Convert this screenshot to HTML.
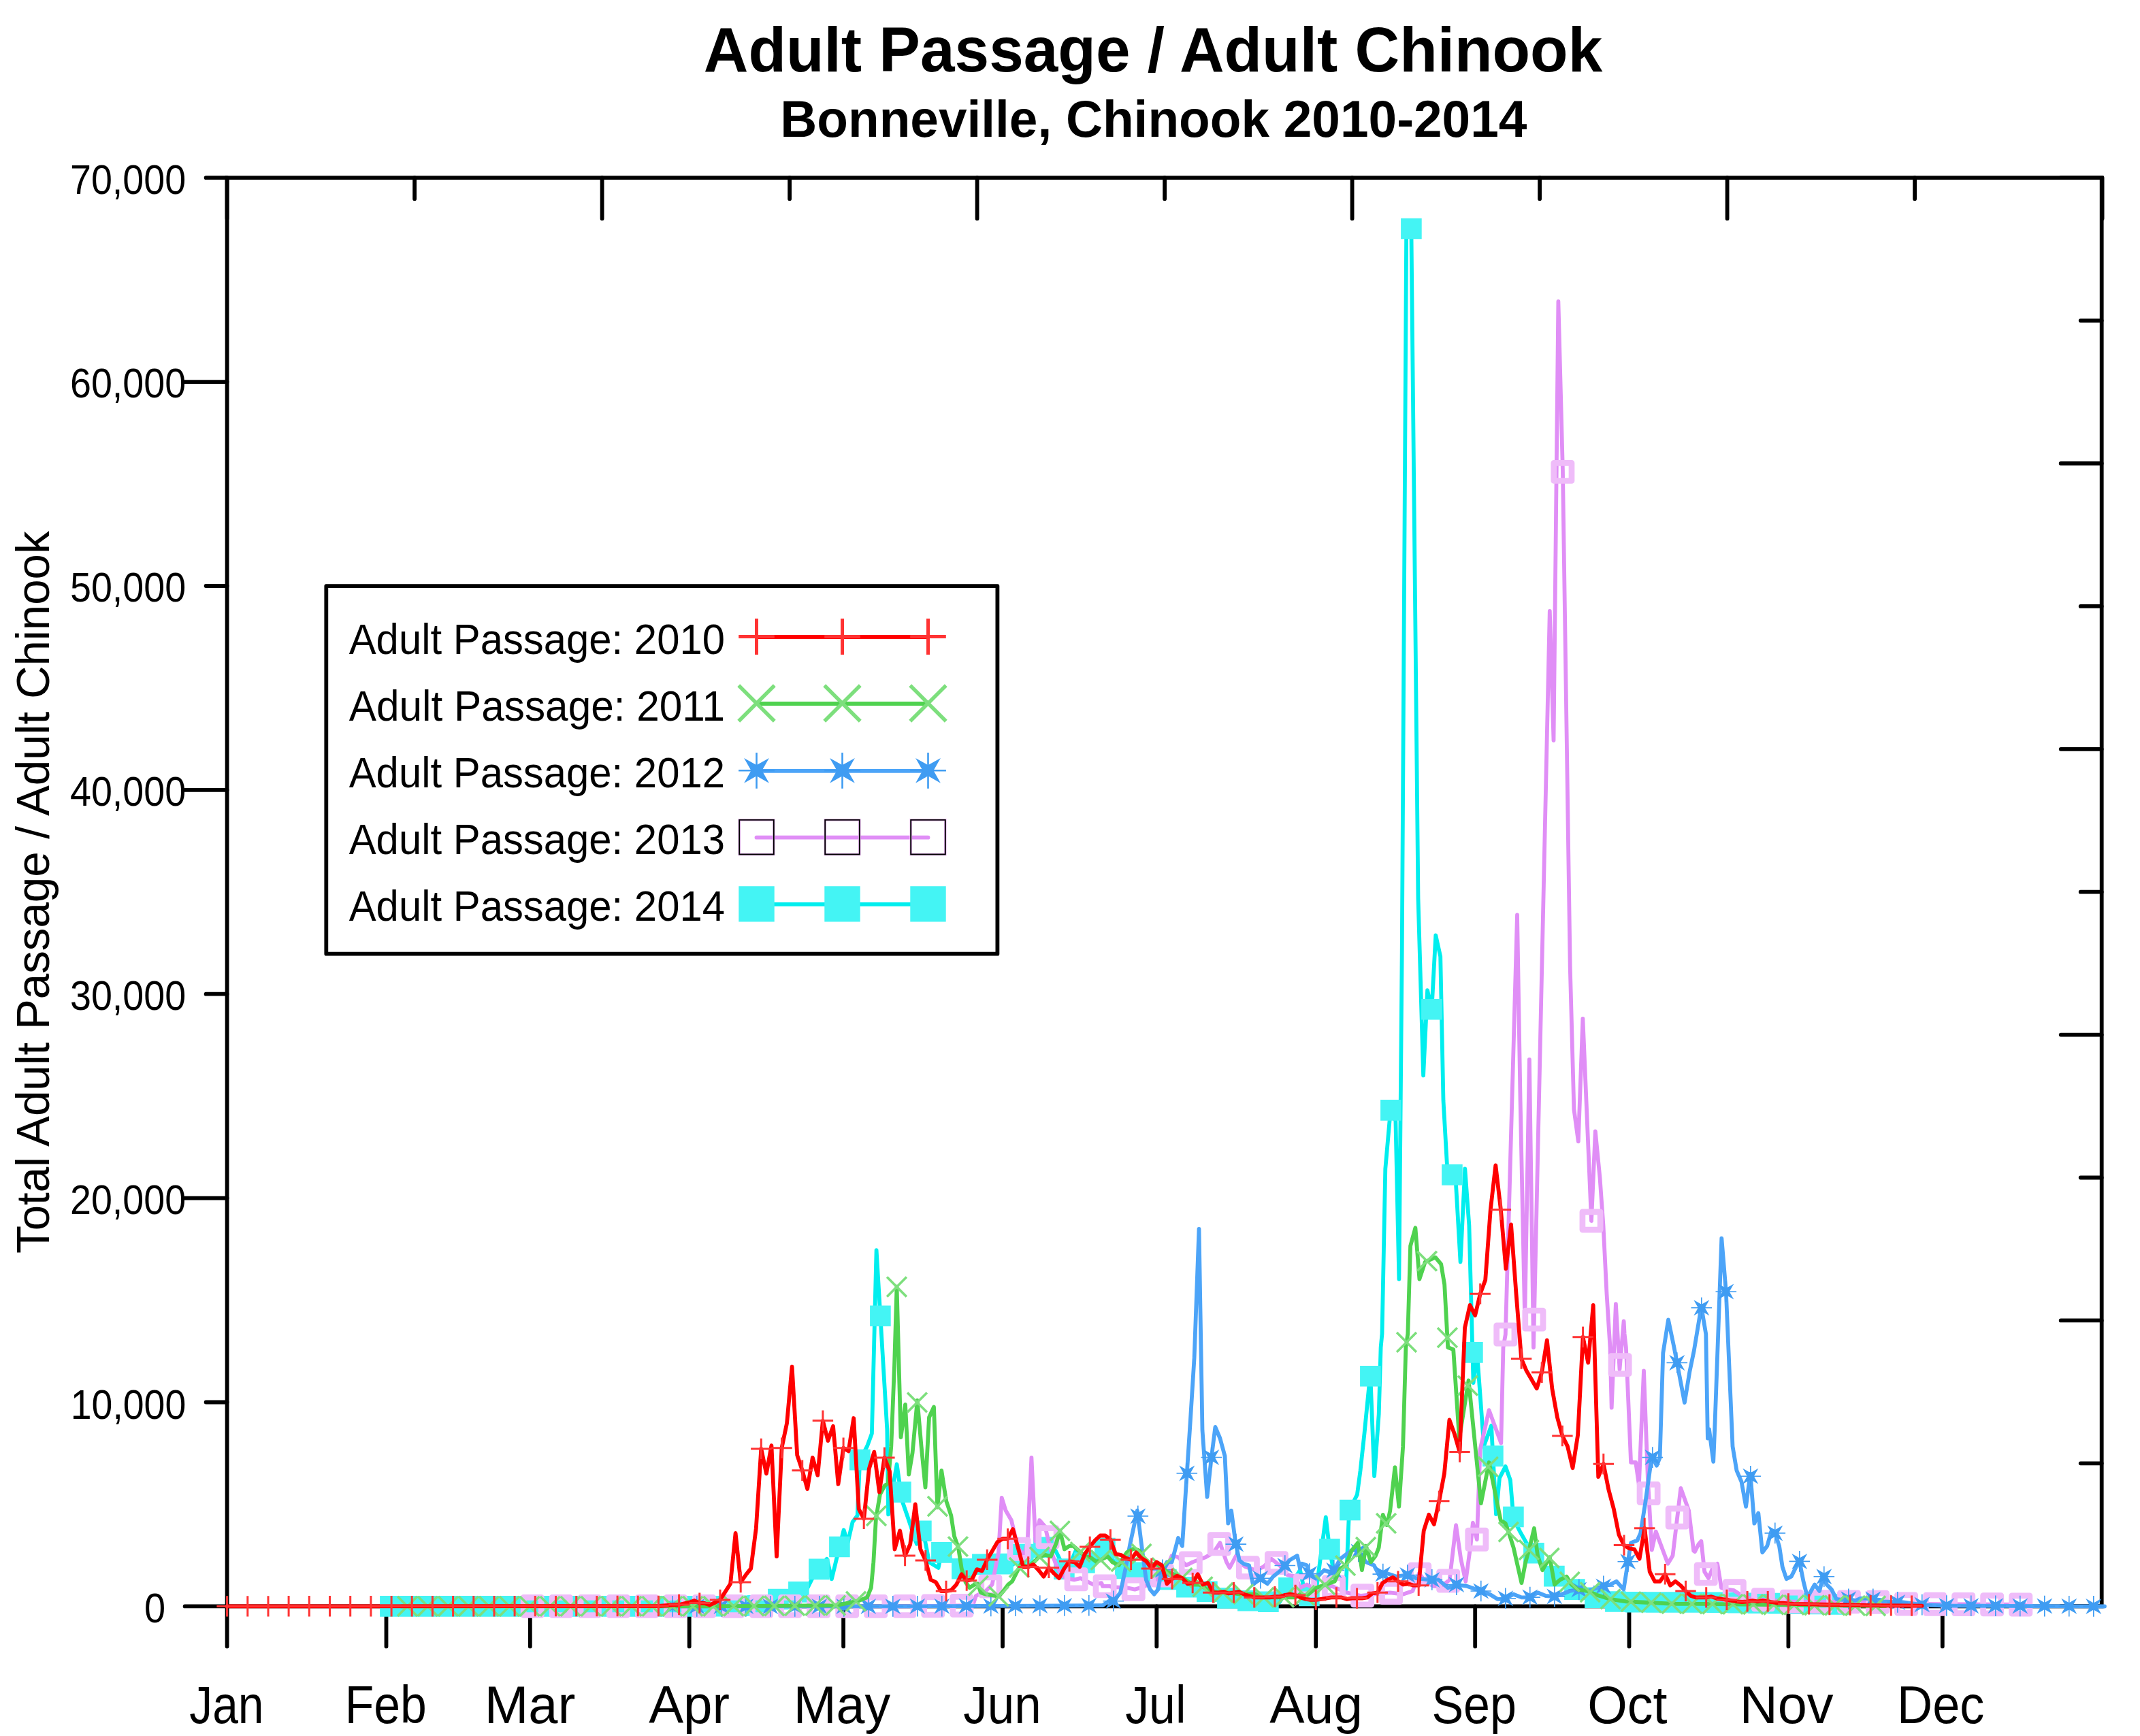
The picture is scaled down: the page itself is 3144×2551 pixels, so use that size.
<!DOCTYPE html><html><head><meta charset="utf-8"><style>html,body{margin:0;padding:0;background:#fff;overflow:hidden} text{font-family:"Liberation Sans",sans-serif}</style></head><body><svg width="3144" height="2551" viewBox="0 0 3144 2551" style="display:block"><rect width="3144" height="2551" fill="#ffffff"/><text x="1033.77" y="105.00" font-size="93" font-weight="bold" textLength="1320.45" lengthAdjust="spacingAndGlyphs">Adult Passage / Adult Chinook</text><text x="1146.31" y="201.30" font-size="76.5" font-weight="bold" textLength="1097.08" lengthAdjust="spacingAndGlyphs">Bonneville, Chinook 2010-2014</text><path d="M271.6,2360.4H333.6M302.6,2060.5H333.6M271.6,1760.6H333.6M302.6,1460.7H333.6M271.6,1160.9H333.6M302.6,861.0H333.6M271.6,561.1H333.6M302.6,261.2H333.6M333.6,2360.4V2419.4M567.5,2360.4V2419.4M778.8,2360.4V2419.4M1012.7,2360.4V2419.4M1239.1,2360.4V2419.4M1473.0,2360.4V2419.4M1699.3,2360.4V2419.4M1933.2,2360.4V2419.4M2167.2,2360.4V2419.4M2393.5,2360.4V2419.4M2627.4,2360.4V2419.4M2853.8,2360.4V2419.4M333.6,261.2V321.2M609.1,261.2V292.2M884.6,261.2V321.2M1160.1,261.2V292.2M1435.6,261.2V321.2M1711.1,261.2V292.2M1986.6,261.2V321.2M2262.1,261.2V292.2M2537.6,261.2V321.2M2813.1,261.2V292.2M3088.6,261.2V321.2M3087.7,261.2H3027.7M3087.7,471.1H3056.7M3087.7,681.0H3027.7M3087.7,890.9H3056.7M3087.7,1100.8H3027.7M3087.7,1310.7H3056.7M3087.7,1520.6H3027.7M3087.7,1730.5H3056.7M3087.7,1940.4H3027.7M3087.7,2150.3H3056.7M3087.7,2360.2H3027.7" stroke="#000" stroke-width="5.8" stroke-linecap="round" fill="none"/><text x="212.04" y="2383.80" font-size="60.5" textLength="31.11" lengthAdjust="spacingAndGlyphs">0</text><text x="103.72" y="2084.71" font-size="60.5" textLength="169.56" lengthAdjust="spacingAndGlyphs">10,000</text><text x="102.94" y="1783.93" font-size="60.5" textLength="170.15" lengthAdjust="spacingAndGlyphs">20,000</text><text x="102.94" y="1484.04" font-size="60.5" textLength="170.15" lengthAdjust="spacingAndGlyphs">30,000</text><text x="102.94" y="1184.16" font-size="60.5" textLength="170.15" lengthAdjust="spacingAndGlyphs">40,000</text><text x="102.94" y="884.27" font-size="60.5" textLength="170.15" lengthAdjust="spacingAndGlyphs">50,000</text><text x="102.94" y="584.39" font-size="60.5" textLength="170.15" lengthAdjust="spacingAndGlyphs">60,000</text><text x="102.94" y="284.50" font-size="60.5" textLength="170.15" lengthAdjust="spacingAndGlyphs">70,000</text><text x="278.33" y="2532.20" font-size="78.5" textLength="109.22" lengthAdjust="spacingAndGlyphs">Jan</text><text x="506.78" y="2532.20" font-size="78.5" textLength="120.04" lengthAdjust="spacingAndGlyphs">Feb</text><text x="711.66" y="2532.20" font-size="78.5" textLength="133.73" lengthAdjust="spacingAndGlyphs">Mar</text><text x="953.13" y="2532.20" font-size="78.5" textLength="118.82" lengthAdjust="spacingAndGlyphs">Apr</text><text x="1165.73" y="2532.20" font-size="78.5" textLength="142.57" lengthAdjust="spacingAndGlyphs">May</text><text x="1415.29" y="2532.20" font-size="78.5" textLength="114.44" lengthAdjust="spacingAndGlyphs">Jun</text><text x="1653.21" y="2532.20" font-size="78.5" textLength="89.25" lengthAdjust="spacingAndGlyphs">Jul</text><text x="1865.22" y="2532.20" font-size="78.5" textLength="136.86" lengthAdjust="spacingAndGlyphs">Aug</text><text x="2103.44" y="2532.20" font-size="78.5" textLength="124.45" lengthAdjust="spacingAndGlyphs">Sep</text><text x="2332.26" y="2532.20" font-size="78.5" textLength="117.22" lengthAdjust="spacingAndGlyphs">Oct</text><text x="2555.78" y="2532.20" font-size="78.5" textLength="137.83" lengthAdjust="spacingAndGlyphs">Nov</text><text x="2787.08" y="2532.20" font-size="78.5" textLength="128.32" lengthAdjust="spacingAndGlyphs">Dec</text><text transform="translate(72,0) rotate(-90)" x="-1841.98" y="0" font-size="68" textLength="1061.56" lengthAdjust="spacingAndGlyphs">Total Adult Passage / Adult Chinook</text><rect x="333.6" y="261.2" width="2754.1" height="2099.2" fill="none" stroke="#000" stroke-width="5.8"/><g id="data"><path d="M567.5,2360.4L1040.0,2360.4L1127.4,2359.2L1158.1,2341.5L1184.1,2338.0L1193.5,2319.1L1214.8,2290.7L1221.9,2320.2L1229.0,2290.7L1239.6,2248.2L1245.5,2267.1L1252.6,2236.4L1259.7,2226.9L1263.2,2145.4L1273.9,2125.4L1280.9,2106.5L1287.6,1837.1L1303.3,2100.0L1305.1,2225.4L1317.6,2151.8L1325.1,2204.5L1335.1,2233.7L1346.8,2268.8L1355.2,2244.6L1365.2,2295.5L1378.6,2303.9L1383.6,2280.5L1413.7,2305.6L1442.0,2298.9L1471.2,2297.2L1483.5,2302.5L1495.4,2293.1L1514.3,2271.8L1530.8,2274.2L1547.3,2271.8L1556.8,2290.7L1566.2,2312.0L1580.4,2278.9L1589.8,2295.4L1606.4,2300.2L1620.0,2267.1L1630.0,2290.7L1631.8,2288.3L1643.6,2304.9L1662.5,2304.9L1679.1,2309.6L1698.0,2314.3L1714.5,2321.4L1733.4,2328.5L1752.3,2335.6L1771.2,2338.0L1790.1,2345.0L1809.0,2349.8L1832.6,2352.1L1856.2,2353.3L1879.8,2354.5L1910.0,2307.2L1920.0,2354.5L1924.2,2342.7L1933.6,2338.0L1939.5,2293.1L1947.8,2229.3L1953.7,2278.9L1959.6,2309.6L1964.3,2314.3L1971.4,2319.1L1977.3,2335.6L1982.0,2222.2L1988.0,2208.0L1993.9,2196.2L1998.6,2160.8L2004.5,2106.5L2013.2,2017.9L2019.1,2169.1L2025.7,2078.1L2028.6,1980.0L2030.5,1960.0L2035.3,1717.4L2043.0,1630.5L2050.4,1647.2L2055.4,1879.5L2059.7,1400.0L2066.2,339.0L2073.4,336.0L2083.5,1320.0L2091.1,1580.4L2097.1,1455.1L2103.3,1485.0L2109.3,1374.4L2116.2,1405.7L2120.5,1617.2L2127.2,1734.1L2137.9,1720.7L2145.6,1854.4L2152.3,1717.4L2158.4,1800.9L2164.6,2032.0L2169.8,1984.7L2180.1,2124.8L2191.0,2095.0L2198.0,2225.0L2203.0,2172.0L2211.8,2154.9L2218.9,2175.0L2223.6,2231.7L2233.1,2250.6L2242.5,2267.1L2254.3,2283.6L2266.1,2300.2L2278.0,2309.6L2289.8,2323.8L2306.3,2332.1L2322.8,2340.3L2341.7,2347.4L2365.4,2353.3L2412.6,2354.5L2500.0,2354.5L2741.0,2358.0" fill="none" stroke="#00eeee" stroke-width="5.8" stroke-linejoin="round" stroke-linecap="round"/><path d="M558.1,2345.1h30.6v30.6h-30.6zM588.1,2345.1h30.6v30.6h-30.6zM618.1,2345.1h30.6v30.6h-30.6zM648.1,2345.1h30.6v30.6h-30.6zM678.1,2345.1h30.6v30.6h-30.6zM708.1,2345.1h30.6v30.6h-30.6zM738.1,2345.1h30.6v30.6h-30.6zM768.1,2345.1h30.6v30.6h-30.6zM798.1,2345.1h30.6v30.6h-30.6zM828.1,2345.1h30.6v30.6h-30.6zM858.1,2345.1h30.6v30.6h-30.6zM888.1,2345.1h30.6v30.6h-30.6zM918.1,2345.1h30.6v30.6h-30.6zM948.1,2345.1h30.6v30.6h-30.6zM978.1,2345.1h30.6v30.6h-30.6zM1008.1,2345.1h30.6v30.6h-30.6zM1038.1,2344.9h30.6v30.6h-30.6zM1068.1,2344.5h30.6v30.6h-30.6zM1098.1,2344.1h30.6v30.6h-30.6zM1128.1,2334.7h30.6v30.6h-30.6zM1158.1,2324.1h30.6v30.6h-30.6zM1188.1,2290.6h30.6v30.6h-30.6zM1218.1,2257.7h30.6v30.6h-30.6zM1248.1,2129.8h30.6v30.6h-30.6zM1278.1,1918.4h30.6v30.6h-30.6zM1308.1,2177.3h30.6v30.6h-30.6zM1338.1,2234.5h30.6v30.6h-30.6zM1368.1,2266.1h30.6v30.6h-30.6zM1398.1,2290.0h30.6v30.6h-30.6zM1428.1,2283.5h30.6v30.6h-30.6zM1458.1,2282.8h30.6v30.6h-30.6zM1488.1,2268.7h30.6v30.6h-30.6zM1518.1,2258.5h30.6v30.6h-30.6zM1548.1,2290.3h30.6v30.6h-30.6zM1578.1,2281.2h30.6v30.6h-30.6zM1608.1,2259.8h30.6v30.6h-30.6zM1638.1,2289.6h30.6v30.6h-30.6zM1668.1,2295.4h30.6v30.6h-30.6zM1698.1,2305.7h30.6v30.6h-30.6zM1728.1,2317.0h30.6v30.6h-30.6zM1758.1,2323.5h30.6v30.6h-30.6zM1788.1,2333.1h30.6v30.6h-30.6zM1818.1,2336.9h30.6v30.6h-30.6zM1848.1,2338.4h30.6v30.6h-30.6zM1878.1,2318.0h30.6v30.6h-30.6zM1908.1,2329.6h30.6v30.6h-30.6zM1938.1,2261.1h30.6v30.6h-30.6zM1968.1,2203.7h30.6v30.6h-30.6zM1998.1,2006.9h30.6v30.6h-30.6zM2028.1,1616.1h30.6v30.6h-30.6zM2058.1,320.7h30.6v30.6h-30.6zM2088.1,1467.9h30.6v30.6h-30.6zM2118.1,1711.1h30.6v30.6h-30.6zM2148.1,1972.1h30.6v30.6h-30.6zM2178.1,2124.3h30.6v30.6h-30.6zM2208.1,2213.7h30.6v30.6h-30.6zM2238.1,2267.0h30.6v30.6h-30.6zM2268.1,2300.8h30.6v30.6h-30.6zM2298.1,2320.3h30.6v30.6h-30.6zM2328.1,2332.5h30.6v30.6h-30.6zM2358.1,2338.2h30.6v30.6h-30.6zM2388.1,2339.0h30.6v30.6h-30.6zM2418.1,2339.2h30.6v30.6h-30.6zM2448.1,2339.2h30.6v30.6h-30.6zM2478.1,2339.2h30.6v30.6h-30.6zM2508.1,2339.5h30.6v30.6h-30.6zM2538.1,2340.0h30.6v30.6h-30.6zM2568.1,2340.4h30.6v30.6h-30.6zM2598.1,2340.8h30.6v30.6h-30.6zM2628.1,2341.3h30.6v30.6h-30.6zM2658.1,2341.7h30.6v30.6h-30.6zM2688.1,2342.2h30.6v30.6h-30.6z" fill="#44f4f4"/><path d="M778.5,2360.4L1330.0,2360.4L1429.2,2359.2L1433.9,2345.0L1448.1,2338.0L1457.6,2328.5L1467.0,2281.3L1471.7,2200.9L1477.6,2219.8L1485.9,2234.0L1495.4,2274.2L1504.8,2286.0L1509.5,2267.1L1515.4,2141.9L1521.3,2264.7L1527.2,2234.0L1535.5,2243.5L1542.6,2274.2L1550.9,2297.8L1559.1,2314.3L1566.2,2319.1L1578.0,2321.4L1587.5,2319.1L1596.9,2323.8L1606.4,2328.5L1618.2,2326.1L1620.0,2330.9L1630.0,2330.9L1634.2,2332.1L1655.4,2333.2L1667.2,2335.6L1679.1,2332.1L1695.6,2323.8L1709.8,2313.2L1721.6,2286.0L1731.0,2288.3L1742.8,2300.2L1752.3,2295.4L1771.2,2288.3L1783.0,2281.3L1792.4,2267.1L1801.9,2295.4L1806.6,2303.7L1816.1,2286.0L1823.2,2297.8L1830.2,2302.5L1844.4,2307.2L1856.2,2302.5L1868.0,2290.7L1879.8,2300.2L1891.7,2314.3L1903.5,2316.7L1910.0,2333.2L1920.0,2328.5L1933.6,2335.6L1957.2,2330.9L1978.5,2340.3L1999.8,2345.0L2018.7,2342.7L2042.3,2340.3L2061.2,2342.7L2075.4,2338.0L2084.8,2312.0L2094.3,2323.8L2106.1,2330.9L2117.9,2330.9L2129.7,2321.4L2139.1,2241.1L2146.2,2290.7L2153.3,2323.8L2160.4,2271.8L2163.9,2237.6L2169.8,2262.4L2174.6,2130.0L2187.6,2072.2L2205.3,2120.6L2208.5,1980.0L2211.8,1961.0L2229.0,1344.5L2233.6,1617.2L2240.2,1937.9L2246.9,1557.0L2253.0,1980.0L2276.8,898.0L2282.5,1088.0L2289.4,443.0L2295.9,690.0L2306.7,1420.0L2312.4,1630.0L2318.8,1677.3L2325.4,1496.9L2338.0,1794.0L2343.8,1662.3L2350.5,1730.8L2355.5,1800.9L2360.5,1901.2L2365.5,1980.0L2367.7,2068.7L2373.9,1916.2L2379.5,2012.0L2385.6,1941.3L2386.6,1960.0L2388.9,1980.0L2396.1,2149.0L2403.2,2149.0L2407.9,2182.0L2415.0,2014.3L2420.9,2172.6L2426.8,2277.7L2432.7,2250.6L2450.4,2297.8L2457.5,2286.0L2469.3,2186.8L2481.1,2219.8L2488.2,2278.9L2490.0,2280.1L2495.3,2269.5L2499.4,2264.7L2504.2,2309.6L2510.1,2319.1L2516.0,2304.9L2523.1,2297.8L2529.0,2333.2L2537.2,2335.6L2546.7,2336.8L2556.1,2342.7L2565.6,2347.4L2575.0,2349.8L2631.7,2353.3L2790.0,2354.5L2800.0,2357.0L2975.0,2358.0" fill="none" stroke="#e08ef6" stroke-width="5.8" stroke-linejoin="round" stroke-linecap="round"/><path d="M769.1,2347.3h26.2v26.2h-26.2zM811.1,2347.3h26.2v26.2h-26.2zM853.2,2347.3h26.2v26.2h-26.2zM895.2,2347.3h26.2v26.2h-26.2zM937.3,2347.3h26.2v26.2h-26.2zM979.3,2347.3h26.2v26.2h-26.2zM1021.4,2347.3h26.2v26.2h-26.2zM1063.4,2347.3h26.2v26.2h-26.2zM1105.5,2347.3h26.2v26.2h-26.2zM1147.5,2347.3h26.2v26.2h-26.2zM1189.5,2347.3h26.2v26.2h-26.2zM1231.6,2347.3h26.2v26.2h-26.2zM1273.6,2347.3h26.2v26.2h-26.2zM1315.7,2347.3h26.2v26.2h-26.2zM1357.7,2346.8h26.2v26.2h-26.2zM1399.8,2346.3h26.2v26.2h-26.2zM1441.8,2318.0h26.2v26.2h-26.2zM1483.9,2263.1h26.2v26.2h-26.2zM1525.9,2245.7h26.2v26.2h-26.2zM1568.0,2307.6h26.2v26.2h-26.2zM1610.0,2317.8h26.2v26.2h-26.2zM1652.1,2322.1h26.2v26.2h-26.2zM1694.1,2301.9h26.2v26.2h-26.2zM1736.2,2283.8h26.2v26.2h-26.2zM1778.2,2255.6h26.2v26.2h-26.2zM1820.3,2290.5h26.2v26.2h-26.2zM1862.3,2283.5h26.2v26.2h-26.2zM1904.4,2316.6h26.2v26.2h-26.2zM1946.4,2318.8h26.2v26.2h-26.2zM1988.5,2331.7h26.2v26.2h-26.2zM2030.5,2327.4h26.2v26.2h-26.2zM2072.6,2300.0h26.2v26.2h-26.2zM2114.6,2309.9h26.2v26.2h-26.2zM2156.7,2249.1h26.2v26.2h-26.2zM2198.7,1947.9h26.2v26.2h-26.2zM2240.8,1926.0h26.2v26.2h-26.2zM2282.8,680.3h26.2v26.2h-26.2zM2324.9,1780.9h26.2v26.2h-26.2zM2367.0,1992.5h26.2v26.2h-26.2zM2409.0,2181.4h26.2v26.2h-26.2zM2451.1,2216.9h26.2v26.2h-26.2zM2493.1,2299.8h26.2v26.2h-26.2zM2535.2,2324.6h26.2v26.2h-26.2zM2577.2,2337.6h26.2v26.2h-26.2zM2619.3,2340.2h26.2v26.2h-26.2zM2661.3,2340.5h26.2v26.2h-26.2zM2703.4,2340.8h26.2v26.2h-26.2zM2745.4,2341.2h26.2v26.2h-26.2zM2787.5,2343.9h26.2v26.2h-26.2zM2829.5,2344.1h26.2v26.2h-26.2zM2871.6,2344.4h26.2v26.2h-26.2zM2913.6,2344.6h26.2v26.2h-26.2zM2955.7,2344.9h26.2v26.2h-26.2z" fill="none" stroke="#efbcf9" stroke-width="8.7" stroke-linejoin="round"/><path d="M986.0,2360.4L1330.0,2360.4L1613.5,2359.2L1620.0,2359.2L1630.0,2352.1L1635.4,2353.3L1646.0,2340.3L1653.1,2307.2L1660.2,2269.5L1670.8,2219.8L1677.9,2276.5L1683.8,2321.4L1689.7,2335.6L1695.6,2342.7L1701.5,2335.6L1706.2,2309.6L1714.5,2295.4L1721.6,2295.4L1731.0,2260.0L1736.9,2271.8L1742.8,2179.7L1748.7,2089.9L1754.6,1995.4L1761.5,1806.0L1766.5,2101.7L1773.5,2199.8L1779.5,2144.3L1785.4,2097.0L1792.4,2113.5L1799.5,2139.5L1804.3,2238.7L1809.0,2219.8L1814.9,2264.7L1820.8,2293.1L1826.7,2297.8L1835.0,2300.2L1840.9,2328.5L1851.5,2319.1L1862.1,2327.3L1870.4,2316.7L1882.2,2307.2L1894.0,2293.1L1905.8,2286.0L1910.0,2304.9L1912.9,2297.8L1920.0,2300.2L1923.0,2312.0L1933.6,2319.1L1945.4,2307.2L1957.2,2312.0L1969.1,2290.7L1978.5,2283.6L1988.0,2276.5L1995.0,2278.9L2006.9,2295.4L2018.7,2300.2L2025.7,2314.3L2037.6,2312.0L2051.7,2316.7L2067.1,2314.3L2080.1,2319.1L2099.0,2321.4L2113.2,2321.4L2127.3,2333.2L2139.1,2328.5L2155.7,2330.9L2175.8,2338.0L2188.7,2342.7L2200.0,2349.8L2210.0,2349.8L2223.6,2342.7L2235.4,2347.4L2247.2,2347.4L2259.1,2340.3L2270.9,2345.0L2282.7,2346.2L2294.5,2342.7L2306.3,2338.0L2318.1,2335.6L2332.3,2338.0L2346.5,2333.2L2355.9,2330.9L2365.4,2328.5L2374.8,2323.8L2385.4,2335.6L2391.3,2297.8L2396.1,2267.1L2405.5,2263.5L2410.2,2252.9L2417.3,2208.0L2426.8,2139.5L2433.9,2153.7L2438.6,2141.9L2443.3,1988.3L2451.0,1939.4L2459.3,1979.0L2463.9,2003.0L2474.9,2061.1L2482.3,2016.0L2488.8,1984.6L2499.5,1920.0L2506.3,1960.6L2508.9,2113.5L2510.9,2100.0L2517.2,2147.8L2519.2,2100.0L2529.3,1819.6L2535.8,1898.0L2545.5,2125.4L2551.4,2160.8L2558.5,2177.3L2565.1,2213.9L2571.5,2165.5L2577.4,2238.7L2583.3,2223.4L2589.2,2281.3L2596.3,2271.8L2602.2,2250.6L2607.4,2251.7L2614.0,2271.8L2618.7,2302.5L2624.6,2320.2L2631.7,2316.7L2643.5,2293.1L2649.5,2323.8L2655.4,2347.4L2666.0,2328.5L2673.1,2338.0L2679.0,2314.3L2683.7,2328.5L2690.8,2335.6L2697.9,2349.8L2706.1,2350.9L2715.6,2349.8L2726.2,2352.1L2732.5,2349.0L2738.0,2348.6L2751.0,2349.8L2763.4,2351.1L2766.4,2353.3L2790.0,2354.5L2794.2,2354.2L2825.0,2358.3L2860.0,2359.5L3092.0,2360.5" fill="none" stroke="#4ca4f8" stroke-width="5.8" stroke-linejoin="round" stroke-linecap="round"/><path d="M972.5,2360.4H1003.1M987.8,2345.1V2375.7M1008.5,2360.4H1039.1M1023.8,2345.1V2375.7M1044.5,2360.4H1075.1M1059.8,2345.1V2375.7M1080.5,2360.4H1111.1M1095.8,2345.1V2375.7M1116.5,2360.4H1147.1M1131.8,2345.1V2375.7M1152.5,2360.4H1183.1M1167.8,2345.1V2375.7M1188.5,2360.4H1219.1M1203.8,2345.1V2375.7M1224.5,2360.4H1255.1M1239.8,2345.1V2375.7M1260.5,2360.4H1291.1M1275.8,2345.1V2375.7M1296.5,2360.4H1327.1M1311.8,2345.1V2375.7M1332.5,2360.3H1363.1M1347.8,2345.0V2375.6M1368.5,2360.2H1399.1M1383.8,2344.9V2375.5M1404.5,2360.0H1435.1M1419.8,2344.7V2375.3M1440.5,2359.9H1471.1M1455.8,2344.6V2375.2M1476.5,2359.7H1507.1M1491.8,2344.4V2375.0M1512.5,2359.6H1543.1M1527.8,2344.3V2374.9M1548.5,2359.4H1579.1M1563.8,2344.1V2374.7M1584.5,2359.3H1615.1M1599.8,2344.0V2374.6M1620.5,2352.8H1651.1M1635.8,2337.5V2368.1M1656.5,2227.9H1687.1M1671.8,2212.6V2243.2M1692.5,2306.9H1723.1M1707.8,2291.6V2322.2M1728.5,2165.0H1759.1M1743.8,2149.7V2180.3M1764.5,2141.5H1795.1M1779.8,2126.2V2156.8M1800.5,2269.1H1831.1M1815.8,2253.8V2284.4M1836.5,2319.3H1867.1M1851.8,2304.0V2334.6M1872.5,2300.5H1903.1M1887.8,2285.2V2315.8M1908.5,2312.5H1939.1M1923.8,2297.2V2327.8M1944.5,2307.4H1975.1M1959.8,2292.1V2322.7M1980.5,2280.0H2011.1M1995.8,2264.7V2295.3M2016.5,2313.1H2047.1M2031.8,2297.8V2328.4M2052.5,2314.6H2083.1M2067.8,2299.3V2329.9M2088.5,2321.4H2119.1M2103.8,2306.1V2336.7M2124.5,2328.6H2155.1M2139.8,2313.3V2343.9M2160.5,2338.0H2191.1M2175.8,2322.7V2353.3M2196.5,2348.8H2227.1M2211.8,2333.5V2364.1M2232.5,2347.1H2263.1M2247.8,2331.8V2362.4M2268.5,2345.9H2299.1M2283.8,2330.6V2361.2M2304.5,2335.9H2335.1M2319.8,2320.6V2351.2M2340.5,2330.9H2371.1M2355.8,2315.6V2346.2M2376.5,2294.8H2407.1M2391.8,2279.5V2310.1M2412.5,2141.6H2443.1M2427.8,2126.3V2156.9M2448.5,2002.5H2479.1M2463.8,1987.2V2017.8M2484.5,1921.8H2515.1M2499.8,1906.5V1937.1M2520.5,1898.0H2551.1M2535.8,1882.7V1913.3M2556.5,2169.3H2587.1M2571.8,2154.0V2184.6M2592.5,2252.9H2623.1M2607.8,2237.6V2268.2M2628.5,2294.4H2659.1M2643.8,2279.1V2309.7M2664.5,2316.8H2695.1M2679.8,2301.5V2332.1M2700.5,2349.8H2731.1M2715.8,2334.5V2365.1M2736.5,2349.9H2767.1M2751.8,2334.6V2365.2M2772.5,2354.4H2803.1M2787.8,2339.1V2369.7M2808.5,2358.1H2839.1M2823.8,2342.8V2373.4M2844.5,2359.5H2875.1M2859.8,2344.2V2374.8M2880.5,2359.7H2911.1M2895.8,2344.4V2375.0M2916.5,2359.8H2947.1M2931.8,2344.5V2375.1M2952.5,2360.0H2983.1M2967.8,2344.7V2375.3M2988.5,2360.1H3019.1M3003.8,2344.8V2375.4M3024.5,2360.3H3055.1M3039.8,2345.0V2375.6M3060.5,2360.4H3091.1M3075.8,2345.1V2375.7" fill="none" stroke="#3f9cf2" stroke-width="1.6"/><path d="M999.3,2371.9L987.8,2365.4L976.3,2371.9L982.8,2360.4L976.3,2348.9L987.8,2355.4L999.3,2348.9L992.8,2360.4ZM1035.3,2371.9L1023.8,2365.4L1012.3,2371.9L1018.8,2360.4L1012.3,2348.9L1023.8,2355.4L1035.3,2348.9L1028.8,2360.4ZM1071.3,2371.9L1059.8,2365.4L1048.3,2371.9L1054.8,2360.4L1048.3,2348.9L1059.8,2355.4L1071.3,2348.9L1064.8,2360.4ZM1107.3,2371.9L1095.8,2365.4L1084.3,2371.9L1090.8,2360.4L1084.3,2348.9L1095.8,2355.4L1107.3,2348.9L1100.8,2360.4ZM1143.3,2371.9L1131.8,2365.4L1120.3,2371.9L1126.8,2360.4L1120.3,2348.9L1131.8,2355.4L1143.3,2348.9L1136.8,2360.4ZM1179.3,2371.9L1167.8,2365.4L1156.3,2371.9L1162.8,2360.4L1156.3,2348.9L1167.8,2355.4L1179.3,2348.9L1172.8,2360.4ZM1215.3,2371.9L1203.8,2365.4L1192.3,2371.9L1198.8,2360.4L1192.3,2348.9L1203.8,2355.4L1215.3,2348.9L1208.8,2360.4ZM1251.3,2371.9L1239.8,2365.4L1228.3,2371.9L1234.8,2360.4L1228.3,2348.9L1239.8,2355.4L1251.3,2348.9L1244.8,2360.4ZM1287.3,2371.9L1275.8,2365.4L1264.3,2371.9L1270.8,2360.4L1264.3,2348.9L1275.8,2355.4L1287.3,2348.9L1280.8,2360.4ZM1323.3,2371.9L1311.8,2365.4L1300.3,2371.9L1306.8,2360.4L1300.3,2348.9L1311.8,2355.4L1323.3,2348.9L1316.8,2360.4ZM1359.3,2371.8L1347.8,2365.3L1336.3,2371.8L1342.8,2360.3L1336.3,2348.8L1347.8,2355.3L1359.3,2348.8L1352.8,2360.3ZM1395.3,2371.7L1383.8,2365.2L1372.3,2371.7L1378.8,2360.2L1372.3,2348.7L1383.8,2355.2L1395.3,2348.7L1388.8,2360.2ZM1431.3,2371.5L1419.8,2365.0L1408.3,2371.5L1414.8,2360.0L1408.3,2348.5L1419.8,2355.0L1431.3,2348.5L1424.8,2360.0ZM1467.3,2371.4L1455.8,2364.9L1444.3,2371.4L1450.8,2359.9L1444.3,2348.4L1455.8,2354.9L1467.3,2348.4L1460.8,2359.9ZM1503.3,2371.2L1491.8,2364.7L1480.3,2371.2L1486.8,2359.7L1480.3,2348.2L1491.8,2354.7L1503.3,2348.2L1496.8,2359.7ZM1539.3,2371.1L1527.8,2364.6L1516.3,2371.1L1522.8,2359.6L1516.3,2348.1L1527.8,2354.6L1539.3,2348.1L1532.8,2359.6ZM1575.3,2370.9L1563.8,2364.4L1552.3,2370.9L1558.8,2359.4L1552.3,2347.9L1563.8,2354.4L1575.3,2347.9L1568.8,2359.4ZM1611.3,2370.8L1599.8,2364.3L1588.3,2370.8L1594.8,2359.3L1588.3,2347.8L1599.8,2354.3L1611.3,2347.8L1604.8,2359.3ZM1647.3,2364.3L1635.8,2357.8L1624.3,2364.3L1630.8,2352.8L1624.3,2341.3L1635.8,2347.8L1647.3,2341.3L1640.8,2352.8ZM1683.3,2239.4L1671.8,2232.9L1660.3,2239.4L1666.8,2227.9L1660.3,2216.4L1671.8,2222.9L1683.3,2216.4L1676.8,2227.9ZM1719.3,2318.4L1707.8,2311.9L1696.3,2318.4L1702.8,2306.9L1696.3,2295.4L1707.8,2301.9L1719.3,2295.4L1712.8,2306.9ZM1755.3,2176.5L1743.8,2170.0L1732.3,2176.5L1738.8,2165.0L1732.3,2153.5L1743.8,2160.0L1755.3,2153.5L1748.8,2165.0ZM1791.3,2153.0L1779.8,2146.5L1768.3,2153.0L1774.8,2141.5L1768.3,2130.0L1779.8,2136.5L1791.3,2130.0L1784.8,2141.5ZM1827.3,2280.6L1815.8,2274.1L1804.3,2280.6L1810.8,2269.1L1804.3,2257.6L1815.8,2264.1L1827.3,2257.6L1820.8,2269.1ZM1863.3,2330.8L1851.8,2324.3L1840.3,2330.8L1846.8,2319.3L1840.3,2307.8L1851.8,2314.3L1863.3,2307.8L1856.8,2319.3ZM1899.3,2312.0L1887.8,2305.5L1876.3,2312.0L1882.8,2300.5L1876.3,2289.0L1887.8,2295.5L1899.3,2289.0L1892.8,2300.5ZM1935.3,2324.0L1923.8,2317.5L1912.3,2324.0L1918.8,2312.5L1912.3,2301.0L1923.8,2307.5L1935.3,2301.0L1928.8,2312.5ZM1971.3,2318.9L1959.8,2312.4L1948.3,2318.9L1954.8,2307.4L1948.3,2295.9L1959.8,2302.4L1971.3,2295.9L1964.8,2307.4ZM2007.3,2291.5L1995.8,2285.0L1984.3,2291.5L1990.8,2280.0L1984.3,2268.5L1995.8,2275.0L2007.3,2268.5L2000.8,2280.0ZM2043.3,2324.6L2031.8,2318.1L2020.3,2324.6L2026.8,2313.1L2020.3,2301.6L2031.8,2308.1L2043.3,2301.6L2036.8,2313.1ZM2079.3,2326.1L2067.8,2319.6L2056.3,2326.1L2062.8,2314.6L2056.3,2303.1L2067.8,2309.6L2079.3,2303.1L2072.8,2314.6ZM2115.3,2332.9L2103.8,2326.4L2092.3,2332.9L2098.8,2321.4L2092.3,2309.9L2103.8,2316.4L2115.3,2309.9L2108.8,2321.4ZM2151.3,2340.1L2139.8,2333.6L2128.3,2340.1L2134.8,2328.6L2128.3,2317.1L2139.8,2323.6L2151.3,2317.1L2144.8,2328.6ZM2187.3,2349.5L2175.8,2343.0L2164.3,2349.5L2170.8,2338.0L2164.3,2326.5L2175.8,2333.0L2187.3,2326.5L2180.8,2338.0ZM2223.3,2360.3L2211.8,2353.8L2200.3,2360.3L2206.8,2348.8L2200.3,2337.3L2211.8,2343.8L2223.3,2337.3L2216.8,2348.8ZM2259.3,2358.6L2247.8,2352.1L2236.3,2358.6L2242.8,2347.1L2236.3,2335.6L2247.8,2342.1L2259.3,2335.6L2252.8,2347.1ZM2295.3,2357.4L2283.8,2350.9L2272.3,2357.4L2278.8,2345.9L2272.3,2334.4L2283.8,2340.9L2295.3,2334.4L2288.8,2345.9ZM2331.3,2347.4L2319.8,2340.9L2308.3,2347.4L2314.8,2335.9L2308.3,2324.4L2319.8,2330.9L2331.3,2324.4L2324.8,2335.9ZM2367.3,2342.4L2355.8,2335.9L2344.3,2342.4L2350.8,2330.9L2344.3,2319.4L2355.8,2325.9L2367.3,2319.4L2360.8,2330.9ZM2403.3,2306.3L2391.8,2299.8L2380.3,2306.3L2386.8,2294.8L2380.3,2283.3L2391.8,2289.8L2403.3,2283.3L2396.8,2294.8ZM2439.3,2153.1L2427.8,2146.6L2416.3,2153.1L2422.8,2141.6L2416.3,2130.1L2427.8,2136.6L2439.3,2130.1L2432.8,2141.6ZM2475.3,2014.0L2463.8,2007.5L2452.3,2014.0L2458.8,2002.5L2452.3,1991.0L2463.8,1997.5L2475.3,1991.0L2468.8,2002.5ZM2511.3,1933.3L2499.8,1926.8L2488.3,1933.3L2494.8,1921.8L2488.3,1910.3L2499.8,1916.8L2511.3,1910.3L2504.8,1921.8ZM2547.3,1909.5L2535.8,1903.0L2524.3,1909.5L2530.8,1898.0L2524.3,1886.5L2535.8,1893.0L2547.3,1886.5L2540.8,1898.0ZM2583.3,2180.8L2571.8,2174.3L2560.3,2180.8L2566.8,2169.3L2560.3,2157.8L2571.8,2164.3L2583.3,2157.8L2576.8,2169.3ZM2619.3,2264.4L2607.8,2257.9L2596.3,2264.4L2602.8,2252.9L2596.3,2241.4L2607.8,2247.9L2619.3,2241.4L2612.8,2252.9ZM2655.3,2305.9L2643.8,2299.4L2632.3,2305.9L2638.8,2294.4L2632.3,2282.9L2643.8,2289.4L2655.3,2282.9L2648.8,2294.4ZM2691.3,2328.3L2679.8,2321.8L2668.3,2328.3L2674.8,2316.8L2668.3,2305.3L2679.8,2311.8L2691.3,2305.3L2684.8,2316.8ZM2727.3,2361.3L2715.8,2354.8L2704.3,2361.3L2710.8,2349.8L2704.3,2338.3L2715.8,2344.8L2727.3,2338.3L2720.8,2349.8ZM2763.3,2361.3L2751.8,2354.9L2740.3,2361.3L2746.8,2349.9L2740.3,2338.4L2751.8,2344.9L2763.3,2338.4L2756.8,2349.9ZM2799.3,2365.9L2787.8,2359.4L2776.3,2365.9L2782.8,2354.4L2776.3,2342.9L2787.8,2349.4L2799.3,2342.9L2792.8,2354.4ZM2835.3,2369.6L2823.8,2363.1L2812.3,2369.6L2818.8,2358.1L2812.3,2346.6L2823.8,2353.1L2835.3,2346.6L2828.8,2358.1ZM2871.3,2371.0L2859.8,2364.5L2848.3,2371.0L2854.8,2359.5L2848.3,2348.0L2859.8,2354.5L2871.3,2348.0L2864.8,2359.5ZM2907.3,2371.2L2895.8,2364.7L2884.3,2371.2L2890.8,2359.7L2884.3,2348.2L2895.8,2354.7L2907.3,2348.2L2900.8,2359.7ZM2943.3,2371.3L2931.8,2364.8L2920.3,2371.3L2926.8,2359.8L2920.3,2348.3L2931.8,2354.8L2943.3,2348.3L2936.8,2359.8ZM2979.3,2371.5L2967.8,2365.0L2956.3,2371.5L2962.8,2360.0L2956.3,2348.5L2967.8,2355.0L2979.3,2348.5L2972.8,2360.0ZM3015.3,2371.6L3003.8,2365.1L2992.3,2371.6L2998.8,2360.1L2992.3,2348.6L3003.8,2355.1L3015.3,2348.6L3008.8,2360.1ZM3051.3,2371.8L3039.8,2365.3L3028.3,2371.8L3034.8,2360.3L3028.3,2348.8L3039.8,2355.3L3051.3,2348.8L3044.8,2360.3ZM3087.3,2371.9L3075.8,2365.4L3064.3,2371.9L3070.8,2360.4L3064.3,2348.9L3075.8,2355.4L3087.3,2348.9L3080.8,2360.4Z" fill="#3f9cf2"/><path d="M590.0,2360.4L1040.0,2360.4L1229.0,2359.2L1262.0,2352.1L1273.9,2347.4L1279.8,2333.2L1283.3,2295.4L1286.9,2231.7L1292.8,2196.2L1299.8,2183.2L1304.6,2179.7L1309.3,2125.4L1314.0,2007.2L1317.5,1890.6L1323.5,2112.0L1330.0,2063.9L1335.2,2166.7L1340.6,2134.8L1347.7,2058.0L1353.6,2125.4L1359.5,2185.6L1365.0,2082.8L1372.0,2067.5L1377.2,2215.1L1383.2,2160.8L1390.2,2205.7L1397.3,2226.9L1402.0,2257.6L1408.0,2274.2L1412.7,2304.9L1418.6,2325.0L1424.5,2333.2L1431.6,2328.5L1436.3,2327.3L1441.0,2340.3L1448.1,2342.7L1455.2,2343.9L1462.3,2345.0L1467.0,2346.2L1474.1,2338.0L1481.2,2328.5L1487.1,2323.8L1495.4,2307.2L1500.1,2297.8L1509.5,2302.5L1519.0,2295.4L1526.1,2288.3L1535.5,2284.8L1543.8,2287.2L1552.0,2267.1L1557.2,2249.4L1563.9,2276.5L1570.9,2271.8L1576.9,2271.8L1585.1,2278.9L1594.6,2287.2L1601.7,2288.3L1611.1,2295.4L1620.0,2290.7L1627.6,2287.2L1634.2,2295.4L1643.6,2300.2L1655.4,2281.3L1666.1,2275.4L1674.3,2278.9L1681.4,2290.7L1690.9,2297.8L1702.7,2300.2L1714.5,2309.6L1726.3,2314.3L1738.1,2319.1L1752.3,2328.5L1761.7,2328.5L1773.5,2335.6L1790.1,2340.3L1809.0,2340.3L1820.8,2342.7L1844.4,2342.7L1856.2,2347.4L1879.8,2347.4L1903.5,2347.4L1910.0,2342.7L1919.4,2345.0L1933.6,2333.2L1947.8,2328.5L1960.8,2323.8L1969.1,2304.9L1977.3,2300.2L1985.6,2278.9L1995.0,2267.1L2000.9,2307.2L2006.9,2271.8L2013.9,2295.4L2021.0,2286.0L2025.7,2274.2L2031.7,2225.8L2037.6,2241.1L2042.3,2219.8L2049.4,2156.1L2055.3,2213.9L2061.2,2125.4L2065.4,1980.0L2068.3,1960.0L2072.1,1831.0L2079.4,1804.3L2085.4,1879.5L2093.8,1854.4L2108.8,1847.7L2117.2,1857.7L2122.2,1887.8L2127.2,1980.0L2135.2,1983.0L2143.9,2113.5L2157.6,2028.5L2175.8,2209.2L2187.6,2149.0L2204.7,2234.0L2211.8,2238.7L2216.5,2251.7L2223.6,2274.2L2235.4,2326.1L2241.3,2295.4L2247.2,2274.2L2253.9,2245.8L2259.1,2286.0L2266.1,2307.2L2276.8,2288.3L2283.9,2328.5L2292.1,2321.4L2301.6,2316.7L2308.7,2328.5L2318.1,2335.6L2332.3,2338.0L2346.5,2343.9L2365.4,2349.8L2389.0,2353.3L2412.6,2354.5L2459.8,2356.9L2500.0,2356.9L2770.0,2360.0" fill="none" stroke="#4fd24f" stroke-width="5.8" stroke-linejoin="round" stroke-linecap="round"/><path d="M584.1,2346.0L612.9,2374.8M584.1,2374.8L612.9,2346.0M614.0,2346.0L642.8,2374.8M614.0,2374.8L642.8,2346.0M644.0,2346.0L672.8,2374.8M644.0,2374.8L672.8,2346.0M673.9,2346.0L702.7,2374.8M673.9,2374.8L702.7,2346.0M703.9,2346.0L732.7,2374.8M703.9,2374.8L732.7,2346.0M733.9,2346.0L762.7,2374.8M733.9,2374.8L762.7,2346.0M763.8,2346.0L792.6,2374.8M763.8,2374.8L792.6,2346.0M793.8,2346.0L822.6,2374.8M793.8,2374.8L822.6,2346.0M823.7,2346.0L852.5,2374.8M823.7,2374.8L852.5,2346.0M853.7,2346.0L882.5,2374.8M853.7,2374.8L882.5,2346.0M883.7,2346.0L912.5,2374.8M883.7,2374.8L912.5,2346.0M913.6,2346.0L942.4,2374.8M913.6,2374.8L942.4,2346.0M943.6,2346.0L972.4,2374.8M943.6,2374.8L972.4,2346.0M973.5,2346.0L1002.3,2374.8M973.5,2374.8L1002.3,2346.0M1003.5,2346.0L1032.3,2374.8M1003.5,2374.8L1032.3,2346.0M1033.5,2345.9L1062.3,2374.7M1033.5,2374.7L1062.3,2345.9M1063.4,2345.8L1092.2,2374.6M1063.4,2374.6L1092.2,2345.8M1093.4,2345.6L1122.2,2374.4M1093.4,2374.4L1122.2,2345.6M1123.3,2345.4L1152.1,2374.2M1123.3,2374.2L1152.1,2345.4M1153.3,2345.2L1182.1,2374.0M1153.3,2374.0L1182.1,2345.2M1183.3,2345.0L1212.1,2373.8M1183.3,2373.8L1212.1,2345.0M1213.2,2344.8L1242.0,2373.6M1213.2,2373.6L1242.0,2344.8M1243.2,2338.7L1272.0,2367.5M1243.2,2367.5L1272.0,2338.7M1273.1,2213.1L1301.9,2241.9M1273.1,2241.9L1301.9,2213.1M1303.1,1876.6L1331.9,1905.4M1303.1,1905.4L1331.9,1876.6M1333.1,2046.4L1361.9,2075.2M1333.1,2075.2L1361.9,2046.4M1363.0,2199.1L1391.8,2227.9M1363.0,2227.9L1391.8,2199.1M1393.0,2258.2L1421.8,2287.0M1393.0,2287.0L1421.8,2258.2M1422.9,2315.8L1451.7,2344.6M1422.9,2344.6L1451.7,2315.8M1452.9,2331.5L1481.7,2360.3M1452.9,2360.3L1481.7,2331.5M1482.9,2289.0L1511.7,2317.8M1482.9,2317.8L1511.7,2289.0M1512.8,2273.5L1541.6,2302.3M1512.8,2302.3L1541.6,2273.5M1542.8,2235.2L1571.6,2264.0M1542.8,2264.0L1571.6,2235.2M1572.7,2266.3L1601.5,2295.1M1572.7,2295.1L1601.5,2266.3M1602.7,2277.9L1631.5,2306.7M1602.7,2306.7L1631.5,2277.9M1632.7,2280.3L1661.5,2309.1M1632.7,2309.1L1661.5,2280.3M1662.6,2269.0L1691.4,2297.8M1662.6,2297.8L1691.4,2269.0M1692.6,2289.2L1721.4,2318.0M1692.6,2318.0L1721.4,2289.2M1722.5,2304.2L1751.3,2333.0M1722.5,2333.0L1751.3,2304.2M1752.5,2317.2L1781.3,2346.0M1752.5,2346.0L1781.3,2317.2M1782.5,2325.9L1811.3,2354.7M1782.5,2354.7L1811.3,2325.9M1812.4,2328.3L1841.2,2357.1M1812.4,2357.1L1841.2,2328.3M1842.4,2333.0L1871.2,2361.8M1842.4,2361.8L1871.2,2333.0M1872.3,2333.0L1901.1,2361.8M1872.3,2361.8L1901.1,2333.0M1902.3,2330.0L1931.1,2358.8M1902.3,2358.8L1931.1,2330.0M1932.3,2314.5L1961.1,2343.3M1932.3,2343.3L1961.1,2314.5M1962.2,2286.2L1991.0,2315.0M1962.2,2315.0L1991.0,2286.2M1992.2,2259.0L2021.0,2287.8M1992.2,2287.8L2021.0,2259.0M2022.1,2224.1L2050.9,2252.9M2022.1,2252.9L2050.9,2224.1M2052.1,1957.9L2080.9,1986.7M2052.1,1986.7L2080.9,1957.9M2082.1,1838.8L2110.9,1867.6M2082.1,1867.6L2110.9,1838.8M2112.0,1951.3L2140.8,1980.1M2112.0,1980.1L2140.8,1951.3M2142.0,2021.7L2170.8,2050.5M2142.0,2050.5L2170.8,2021.7M2171.9,2141.0L2200.7,2169.8M2171.9,2169.8L2200.7,2141.0M2201.9,2236.7L2230.7,2265.5M2201.9,2265.5L2230.7,2236.7M2231.9,2263.3L2260.7,2292.1M2231.9,2292.1L2260.7,2263.3M2261.8,2274.9L2290.6,2303.7M2261.8,2303.7L2290.6,2274.9M2291.8,2310.0L2320.6,2338.8M2291.8,2338.8L2320.6,2310.0M2321.7,2325.2L2350.5,2354.0M2321.7,2354.0L2350.5,2325.2M2351.7,2335.5L2380.5,2364.3M2351.7,2364.3L2380.5,2335.5M2381.7,2339.3L2410.5,2368.1M2381.7,2368.1L2410.5,2339.3M2411.6,2340.8L2440.4,2369.6M2411.6,2369.6L2440.4,2340.8M2441.6,2342.3L2470.4,2371.1M2441.6,2371.1L2470.4,2342.3M2471.5,2342.5L2500.3,2371.3M2471.5,2371.3L2500.3,2342.5M2501.5,2342.6L2530.3,2371.4M2501.5,2371.4L2530.3,2342.6M2531.5,2343.0L2560.3,2371.8M2531.5,2371.8L2560.3,2343.0M2561.4,2343.3L2590.2,2372.1M2561.4,2372.1L2590.2,2343.3M2591.4,2343.7L2620.2,2372.5M2591.4,2372.5L2620.2,2343.7M2621.3,2344.0L2650.1,2372.8M2621.3,2372.8L2650.1,2344.0M2651.3,2344.4L2680.1,2373.2M2651.3,2373.2L2680.1,2344.4M2681.3,2344.7L2710.1,2373.5M2681.3,2373.5L2710.1,2344.7M2711.2,2345.1L2740.0,2373.9M2711.2,2373.9L2740.0,2345.1M2741.2,2345.4L2770.0,2374.2M2741.2,2374.2L2770.0,2345.4" fill="none" stroke="#7ddf7d" stroke-width="3.6"/><path d="M333.6,2360.4L967.4,2360.0L997.6,2358.0L1012.7,2354.7L1020.2,2352.0L1027.8,2355.6L1035.3,2356.0L1042.9,2358.4L1050.4,2355.0L1058.0,2350.9L1073.1,2327.3L1080.6,2252.9L1088.2,2325.0L1095.7,2314.3L1103.2,2304.9L1110.8,2245.8L1118.3,2128.9L1125.9,2165.5L1133.4,2124.2L1141.0,2287.2L1148.5,2127.7L1156.1,2091.1L1163.6,2008.4L1171.2,2138.3L1178.7,2160.8L1186.2,2188.0L1193.8,2141.9L1201.3,2167.9L1208.9,2087.6L1216.4,2117.1L1224.0,2095.8L1231.5,2180.9L1239.1,2127.7L1246.6,2132.4L1254.2,2084.0L1261.7,2217.5L1269.2,2231.7L1276.8,2158.4L1284.3,2133.6L1291.9,2192.7L1299.4,2141.9L1307.0,2162.0L1314.5,2276.5L1322.1,2249.4L1329.6,2286.0L1337.2,2269.5L1344.7,2210.4L1352.2,2276.5L1359.8,2293.1L1367.3,2321.4L1374.9,2325.0L1382.4,2338.0L1390.0,2338.0L1397.5,2336.8L1405.1,2328.5L1412.6,2313.2L1420.2,2322.6L1427.7,2321.4L1435.2,2306.1L1442.8,2308.4L1450.3,2291.9L1457.9,2278.9L1465.4,2265.9L1473.0,2261.2L1480.5,2261.2L1488.1,2247.0L1495.6,2274.2L1503.2,2302.5L1510.7,2302.5L1518.2,2299.0L1525.8,2307.2L1533.3,2316.7L1540.9,2303.7L1548.4,2312.0L1556.0,2319.1L1563.5,2304.9L1571.1,2294.3L1578.6,2295.4L1586.2,2302.5L1593.7,2283.6L1601.2,2273.0L1608.8,2263.5L1616.3,2256.5L1623.9,2256.5L1631.4,2262.4L1639.0,2283.6L1646.5,2284.8L1654.1,2289.5L1661.6,2291.9L1669.2,2281.3L1676.7,2289.5L1684.2,2294.3L1691.8,2304.9L1699.3,2295.4L1706.9,2300.2L1714.4,2327.3L1722.0,2320.2L1729.5,2315.5L1737.1,2319.1L1744.6,2327.3L1752.2,2326.1L1759.7,2313.2L1767.2,2328.5L1774.8,2326.1L1782.3,2340.3L1789.9,2340.3L1797.4,2339.1L1805.0,2341.5L1812.5,2340.3L1820.1,2339.1L1827.6,2342.7L1835.2,2345.0L1842.7,2347.4L1850.2,2347.4L1857.8,2347.4L1865.3,2347.4L1872.9,2346.2L1880.4,2346.2L1888.0,2343.9L1895.5,2342.7L1903.1,2343.9L1910.6,2347.4L1918.2,2349.8L1925.7,2350.9L1933.2,2350.9L1940.8,2349.8L1948.3,2348.6L1955.9,2347.4L1963.4,2347.4L1971.0,2347.4L1978.5,2349.8L1986.1,2348.6L1993.6,2348.6L2001.2,2348.6L2008.7,2347.4L2016.2,2341.5L2023.8,2340.3L2031.3,2326.1L2038.9,2321.4L2046.4,2317.9L2054.0,2323.8L2061.5,2328.5L2069.1,2327.3L2076.6,2329.7L2084.2,2329.7L2091.7,2249.4L2099.2,2225.8L2106.8,2239.9L2114.3,2205.7L2121.9,2165.5L2129.4,2086.4L2137.0,2107.6L2144.5,2133.6L2152.1,1951.0L2159.6,1917.9L2167.2,1932.9L2174.7,1901.2L2182.2,1881.0L2189.8,1777.5L2197.3,1712.4L2204.9,1777.5L2212.4,1864.4L2220.0,1799.3L2227.5,1901.0L2235.1,1996.6L2242.6,2014.3L2250.2,2027.3L2257.7,2040.3L2265.2,2016.7L2272.8,1969.4L2280.3,2040.3L2287.9,2082.8L2295.4,2110.0L2303.0,2125.4L2310.5,2157.2L2318.1,2108.8L2325.6,1964.7L2333.2,2002.5L2340.7,1917.9L2348.2,2170.2L2355.8,2151.3L2363.3,2189.1L2370.9,2217.5L2378.4,2255.3L2386.0,2270.6L2393.5,2275.4L2401.1,2276.5L2408.6,2290.7L2416.2,2245.8L2423.7,2309.6L2431.2,2323.8L2438.8,2323.8L2446.3,2313.2L2453.9,2329.7L2461.4,2323.8L2469.0,2329.7L2476.5,2338.0L2484.1,2345.0L2491.6,2347.4L2499.2,2347.4L2506.7,2347.4L2514.2,2346.2L2521.8,2348.6L2529.3,2349.8L2536.9,2350.9L2544.4,2352.1L2552.0,2353.3L2559.5,2354.0L2567.1,2353.3L2574.6,2352.1L2582.2,2353.3L2589.7,2352.1L2597.2,2353.3L2604.8,2354.5L2612.3,2355.7L2619.9,2355.7L2627.4,2356.4L2635.0,2356.9L2687.8,2358.0L2748.2,2359.2L2823.6,2359.7" fill="none" stroke="#ff0000" stroke-width="5.8" stroke-linejoin="round" stroke-linecap="round"/><path d="M318.4,2360.4H348.8M333.6,2345.2V2375.6M348.6,2360.4H379.0M363.8,2345.2V2375.6M378.8,2360.4H409.2M394.0,2345.2V2375.6M408.9,2360.3H439.3M424.1,2345.1V2375.5M439.1,2360.3H469.5M454.3,2345.1V2375.5M469.3,2360.3H499.7M484.5,2345.1V2375.5M499.5,2360.3H529.9M514.7,2345.1V2375.5M529.7,2360.3H560.1M544.9,2345.1V2375.5M559.9,2360.2H590.3M575.1,2345.0V2375.4M590.0,2360.2H620.4M605.2,2345.0V2375.4M620.2,2360.2H650.6M635.4,2345.0V2375.4M650.4,2360.2H680.8M665.6,2345.0V2375.4M680.6,2360.2H711.0M695.8,2345.0V2375.4M710.8,2360.2H741.2M726.0,2345.0V2375.4M740.9,2360.1H771.3M756.1,2344.9V2375.3M771.1,2360.1H801.5M786.3,2344.9V2375.3M801.3,2360.1H831.7M816.5,2344.9V2375.3M831.5,2360.1H861.9M846.7,2344.9V2375.3M861.7,2360.1H892.1M876.9,2344.9V2375.3M891.9,2360.0H922.3M907.1,2344.8V2375.2M922.0,2360.0H952.4M937.2,2344.8V2375.2M952.2,2360.0H982.6M967.4,2344.8V2375.2M982.4,2358.0H1012.8M997.6,2342.8V2373.2M1012.6,2355.6H1043.0M1027.8,2340.4V2370.8M1042.8,2350.9H1073.2M1058.0,2335.7V2366.1M1073.0,2325.0H1103.4M1088.2,2309.8V2340.2M1103.1,2128.9H1133.5M1118.3,2113.7V2144.1M1133.3,2127.7H1163.7M1148.5,2112.5V2142.9M1163.5,2160.8H1193.9M1178.7,2145.6V2176.0M1193.7,2087.6H1224.1M1208.9,2072.4V2102.8M1223.9,2127.7H1254.3M1239.1,2112.5V2142.9M1254.0,2231.7H1284.4M1269.2,2216.5V2246.9M1284.2,2141.9H1314.6M1299.4,2126.7V2157.1M1314.4,2286.0H1344.8M1329.6,2270.8V2301.2M1344.6,2293.1H1375.0M1359.8,2277.9V2308.3M1374.8,2338.0H1405.2M1390.0,2322.8V2353.2M1405.0,2322.6H1435.4M1420.2,2307.4V2337.8M1435.1,2291.9H1465.5M1450.3,2276.7V2307.1M1465.3,2261.2H1495.7M1480.5,2246.0V2276.4M1495.5,2302.5H1525.9M1510.7,2287.3V2317.7M1525.7,2303.7H1556.1M1540.9,2288.5V2318.9M1555.9,2294.3H1586.3M1571.1,2279.1V2309.5M1586.0,2273.0H1616.4M1601.2,2257.8V2288.2M1616.2,2262.4H1646.6M1631.4,2247.2V2277.6M1646.4,2291.9H1676.8M1661.6,2276.7V2307.1M1676.6,2304.9H1707.0M1691.8,2289.7V2320.1M1706.8,2320.2H1737.2M1722.0,2305.0V2335.4M1737.0,2326.1H1767.4M1752.2,2310.9V2341.3M1767.1,2340.3H1797.5M1782.3,2325.1V2355.5M1797.3,2340.3H1827.7M1812.5,2325.1V2355.5M1827.5,2347.4H1857.9M1842.7,2332.2V2362.6M1857.7,2346.2H1888.1M1872.9,2331.0V2361.4M1887.9,2343.9H1918.3M1903.1,2328.7V2359.1M1918.0,2350.9H1948.4M1933.2,2335.7V2366.1M1948.2,2347.4H1978.6M1963.4,2332.2V2362.6M1978.4,2348.6H2008.8M1993.6,2333.4V2363.8M2008.6,2340.3H2039.0M2023.8,2325.1V2355.5M2038.8,2323.8H2069.2M2054.0,2308.6V2339.0M2069.0,2329.7H2099.4M2084.2,2314.5V2344.9M2099.1,2205.7H2129.5M2114.3,2190.5V2220.9M2129.3,2133.6H2159.7M2144.5,2118.4V2148.8M2159.5,1901.2H2189.9M2174.7,1886.0V1916.4M2189.7,1777.5H2220.1M2204.9,1762.3V1792.7M2219.9,1996.6H2250.3M2235.1,1981.4V2011.8M2250.0,2016.7H2280.4M2265.2,2001.5V2031.9M2280.2,2110.0H2310.6M2295.4,2094.8V2125.2M2310.4,1964.7H2340.8M2325.6,1949.5V1979.9M2340.6,2151.3H2371.0M2355.8,2136.1V2166.5M2370.8,2270.6H2401.2M2386.0,2255.4V2285.8M2401.0,2245.8H2431.4M2416.2,2230.6V2261.0M2431.1,2313.2H2461.5M2446.3,2298.0V2328.4M2461.3,2338.0H2491.7M2476.5,2322.8V2353.2M2491.5,2347.4H2521.9M2506.7,2332.2V2362.6M2521.7,2350.9H2552.1M2536.9,2335.7V2366.1M2551.9,2353.3H2582.3M2567.1,2338.1V2368.5M2582.1,2353.3H2612.4M2597.2,2338.1V2368.5M2612.2,2356.4H2642.6M2627.4,2341.2V2371.6M2642.4,2357.4H2672.8M2657.6,2342.2V2372.6M2672.6,2358.0H2703.0M2687.8,2342.8V2373.2M2702.8,2358.6H2733.2M2718.0,2343.4V2373.8M2733.0,2359.2H2763.4M2748.2,2344.0V2374.4M2763.1,2359.4H2793.5M2778.3,2344.2V2374.6M2793.3,2359.6H2823.7M2808.5,2344.4V2374.8" fill="none" stroke="#ff3333" stroke-width="3.0"/></g><rect x="479.3" y="861.2" width="986.1" height="540.5" fill="#fff" stroke="#000" stroke-width="5.8" stroke-linejoin="round"/><text x="512.70" y="960.80" font-size="62.5" textLength="552.31" lengthAdjust="spacingAndGlyphs">Adult Passage: 2010</text><path d="M1111.5,936.0H1363.5" stroke="#ff0000" stroke-width="5.8" stroke-linecap="round"/><path d="M1085.2,935.5H1137.8M1111.5,909.0V962.0M1211.2,935.5H1263.8M1237.5,909.0V962.0M1337.2,935.5H1389.8M1363.5,909.0V962.0" stroke="#ff3333" stroke-width="5" fill="none"/><text x="512.70" y="1058.90" font-size="62.5" textLength="552.31" lengthAdjust="spacingAndGlyphs">Adult Passage: 2011</text><path d="M1111.5,1034.0H1363.5" stroke="#4fd24f" stroke-width="5.8" stroke-linecap="round"/><path d="M1085.2,1007.2L1137.8,1059.8M1085.2,1059.8L1137.8,1007.2M1211.2,1007.2L1263.8,1059.8M1211.2,1059.8L1263.8,1007.2M1337.2,1007.2L1389.8,1059.8M1337.2,1059.8L1389.8,1007.2" stroke="#7ddf7d" stroke-width="5.5" fill="none"/><text x="512.70" y="1157.00" font-size="62.5" textLength="552.31" lengthAdjust="spacingAndGlyphs">Adult Passage: 2012</text><path d="M1111.5,1132.8H1363.5" stroke="#4ca4f8" stroke-width="5.8" stroke-linecap="round"/><path d="M1085.1,1132.3H1137.9M1111.5,1105.9V1158.7M1211.1,1132.3H1263.9M1237.5,1105.9V1158.7M1337.1,1132.3H1389.9M1363.5,1105.9V1158.7" stroke="#3f9cf2" stroke-width="2.6" fill="none"/><path d="M1129.9,1150.7L1111.5,1140.3L1093.1,1150.7L1103.5,1132.3L1093.1,1113.9L1111.5,1124.3L1129.9,1113.9L1119.5,1132.3ZM1255.9,1150.7L1237.5,1140.3L1219.1,1150.7L1229.5,1132.3L1219.1,1113.9L1237.5,1124.3L1255.9,1113.9L1245.5,1132.3ZM1381.9,1150.7L1363.5,1140.3L1345.1,1150.7L1355.5,1132.3L1345.1,1113.9L1363.5,1124.3L1381.9,1113.9L1371.5,1132.3Z" fill="#3f9cf2"/><text x="512.70" y="1255.00" font-size="62.5" textLength="552.31" lengthAdjust="spacingAndGlyphs">Adult Passage: 2013</text><path d="M1111.5,1230.7H1363.5" stroke="#e08ef6" stroke-width="5.8" stroke-linecap="round"/><path d="M1086.2,1204.9h50.6v50.6h-50.6zM1212.2,1204.9h50.6v50.6h-50.6zM1338.2,1204.9h50.6v50.6h-50.6z" stroke="#efbcf9" stroke-width="3.6" fill="none"/><path d="M1086.2,1204.9h50.6v50.6h-50.6zM1212.2,1204.9h50.6v50.6h-50.6zM1338.2,1204.9h50.6v50.6h-50.6z" stroke="#000" stroke-width="1.9" fill="none"/><text x="512.70" y="1353.10" font-size="62.5" textLength="552.31" lengthAdjust="spacingAndGlyphs">Adult Passage: 2014</text><path d="M1111.5,1328.9H1363.5" stroke="#00eeee" stroke-width="5.8" stroke-linecap="round"/><path d="M1085.3,1302.2h52.4v52.4h-52.4zM1211.3,1302.2h52.4v52.4h-52.4zM1337.3,1302.2h52.4v52.4h-52.4z" fill="#44f4f4"/></svg></body></html>
